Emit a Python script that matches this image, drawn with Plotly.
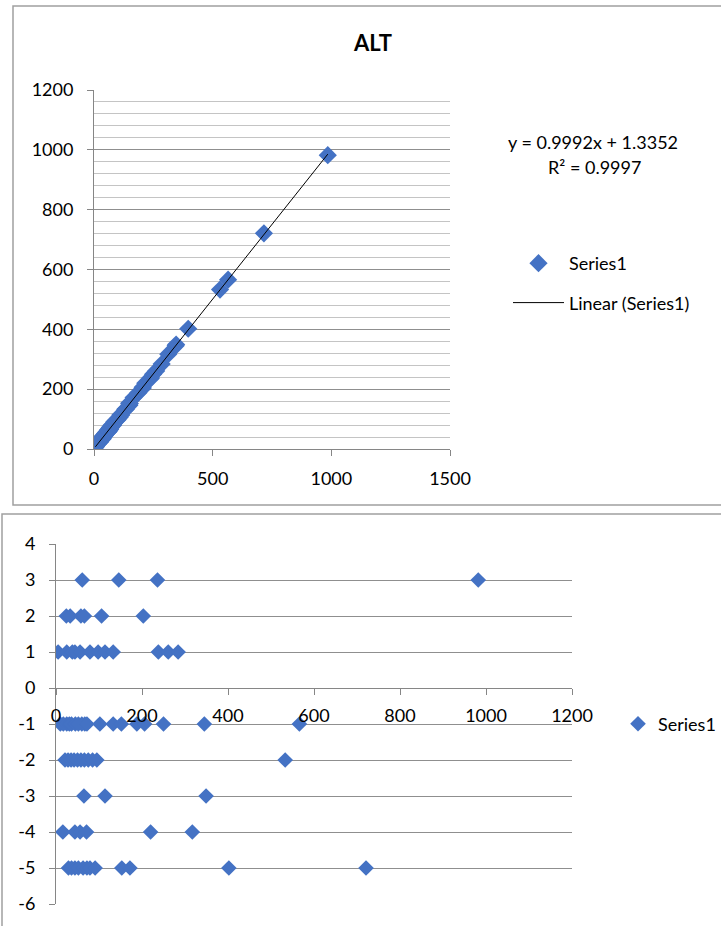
import numpy as np
import plotly.graph_objects as go

# ALT values (reference method) and the paired difference for each sample
alt_ref = [
    61, 146, 236, 982,
    24, 33, 58, 66, 106, 203,
    5, 25, 38, 44, 56, 79, 98, 114, 133, 238, 261, 284,
    10, 17, 25, 31, 36, 45, 52, 60, 67, 72, 102, 133, 152, 188, 206, 250, 345, 566,
    21, 28, 35, 42, 50, 58, 66, 75, 85, 95, 533,
    65, 114, 349,
    16, 44, 56, 71, 220, 317,
    29, 36, 44, 52, 63, 72, 79, 91, 153, 172, 402, 721,
]
alt_diff = (
    [3] * 4
    + [2] * 6
    + [1] * 12
    + [-1] * 18
    + [-2] * 11
    + [-3] * 3
    + [-4] * 6
    + [-5] * 12
)

# Linear trendline coefficients and fit quality
trend_slope = 0.9992
trend_intercept = 1.3352
trend_r2 = 0.9997

# Axis ticks
top_x_ticks = [0, 500, 1000, 1500]
top_y_ticks = [0, 200, 400, 600, 800, 1000, 1200]
bot_x_ticks = [0, 200, 400, 600, 800, 1000, 1200]
bot_y_ticks = [4, 3, 2, 1, 0, -1, -2, -3, -4, -5, -6]
bot_y_labels = ["4", "3", "2", "1", "0", "-1", "-2", "-3", "-4", "-5", "-6"]

ref = np.array(alt_ref, dtype=float)
diff = np.array(alt_diff, dtype=float)
alt_x = ref + diff
alt_y = ref

W, H = 721, 926
BLUE = "#4472C4"
AXIS = "#868686"
GRID = "#8f8f8f"
MINOR = "#c4c4c4"
FONT = "Lato"


def px(x):
    return x / W


def py(y):
    return 1 - y / H


fig = go.Figure()

fig.add_trace(go.Scatter(
    x=alt_x, y=alt_y, mode="markers", name="Series1",
    marker=dict(symbol="diamond", size=14, color=BLUE),
    xaxis="x", yaxis="y", legend="legend", legendgroup="a",
))
tx = np.array([alt_x.min(), alt_x.max()])
fig.add_trace(go.Scatter(
    x=tx, y=trend_slope * tx + trend_intercept, mode="lines",
    name="Linear (Series1)", line=dict(color="black", width=1),
    xaxis="x", yaxis="y", legend="legend", legendgroup="b",
))
fig.add_trace(go.Scatter(
    x=ref, y=diff, mode="markers", name="Series1",
    marker=dict(symbol="diamond", size=12, color=BLUE),
    xaxis="x2", yaxis="y2", legend="legend2",
))

top_ydom = [py(449), py(90)]
bot_ydom = [py(904), py(544)]
bot_ymin, bot_ymax = bot_y_ticks[-1], bot_y_ticks[0]
zero_pos = bot_ydom[0] + (0 - bot_ymin) / (bot_ymax - bot_ymin) * (bot_ydom[1] - bot_ydom[0])

tickfont = dict(family=FONT, size=18, color="#000000")
common = dict(showline=True, linecolor=AXIS, linewidth=1, ticks="outside",
              ticklen=6, tickcolor=AXIS, zeroline=False, tickfont=tickfont,
              automargin=False)

fig.update_layout(
    width=W, height=H,
    margin=dict(l=0, r=0, t=0, b=0, autoexpand=False),
    paper_bgcolor="white", plot_bgcolor="white",
    font=dict(family=FONT, size=18, color="#000000"),
    title=dict(text="<b>ALT</b>", x=px(373), y=py(43), xanchor="center",
               yanchor="middle", font=dict(family=FONT, size=22, color="#000000")),
    xaxis=dict(domain=[px(94), px(450)], range=[0, 1500], tickvals=top_x_ticks,
               anchor="y", showgrid=False, ticklabelstandoff=7, **common),
    yaxis=dict(domain=top_ydom, range=[0, 1200], tickvals=top_y_ticks,
               anchor="x", showgrid=True, gridcolor=GRID, gridwidth=1,
               minor=dict(dtick=40, showgrid=True, gridcolor=MINOR, gridwidth=1, ticks=""),
               ticklabelstandoff=10, **common),
    xaxis2=dict(domain=[px(56), px(572)], range=[0, 1200], tickvals=bot_x_ticks,
                anchor="free", position=zero_pos, showgrid=False,
                ticklabelstandoff=5, **common),
    yaxis2=dict(domain=bot_ydom, range=[bot_ymin, bot_ymax], tickvals=bot_y_ticks,
                ticktext=bot_y_labels,
                anchor="x2", showgrid=True, gridcolor=GRID, gridwidth=1,
                ticklabelstandoff=10, **common),
    legend=dict(
        x=px(508), y=py(245), xanchor="left", yanchor="top",
        font=dict(family=FONT, size=18), tracegroupgap=13, itemwidth=51,
        bgcolor="rgba(0,0,0,0)",
    ),
    legend2=dict(
        x=1, y=py(724), xanchor="right", yanchor="middle",
        font=dict(family=FONT, size=18), bgcolor="rgba(0,0,0,0)",
    ),
    showlegend=True,
)

# Trendline equation and R²
fig.add_annotation(
    text=f"y = {trend_slope:.4f}x + {trend_intercept:.4f}", xref="paper", yref="paper",
    x=px(593), y=py(142), xanchor="center", yanchor="middle", showarrow=False,
    font=dict(family=FONT, size=18, color="#000000"),
)
fig.add_annotation(
    text=f"R² = {trend_r2:.4f}", xref="paper", yref="paper",
    x=px(594), y=py(167), xanchor="center", yanchor="middle", showarrow=False,
    font=dict(family=FONT, size=18, color="#000000"),
)

# Chart area frames
fig.add_shape(type="rect", xref="paper", yref="paper",
              x0=px(13), x1=px(W + 5), y0=py(505), y1=py(6),
              line=dict(color="#a0a0a0", width=1.5), layer="below")
fig.add_shape(type="rect", xref="paper", yref="paper",
              x0=px(2), x1=px(W + 5), y0=py(H + 5), y1=py(514),
              line=dict(color="#a0a0a0", width=1.5), layer="below")

fig.write_html("out.html")
